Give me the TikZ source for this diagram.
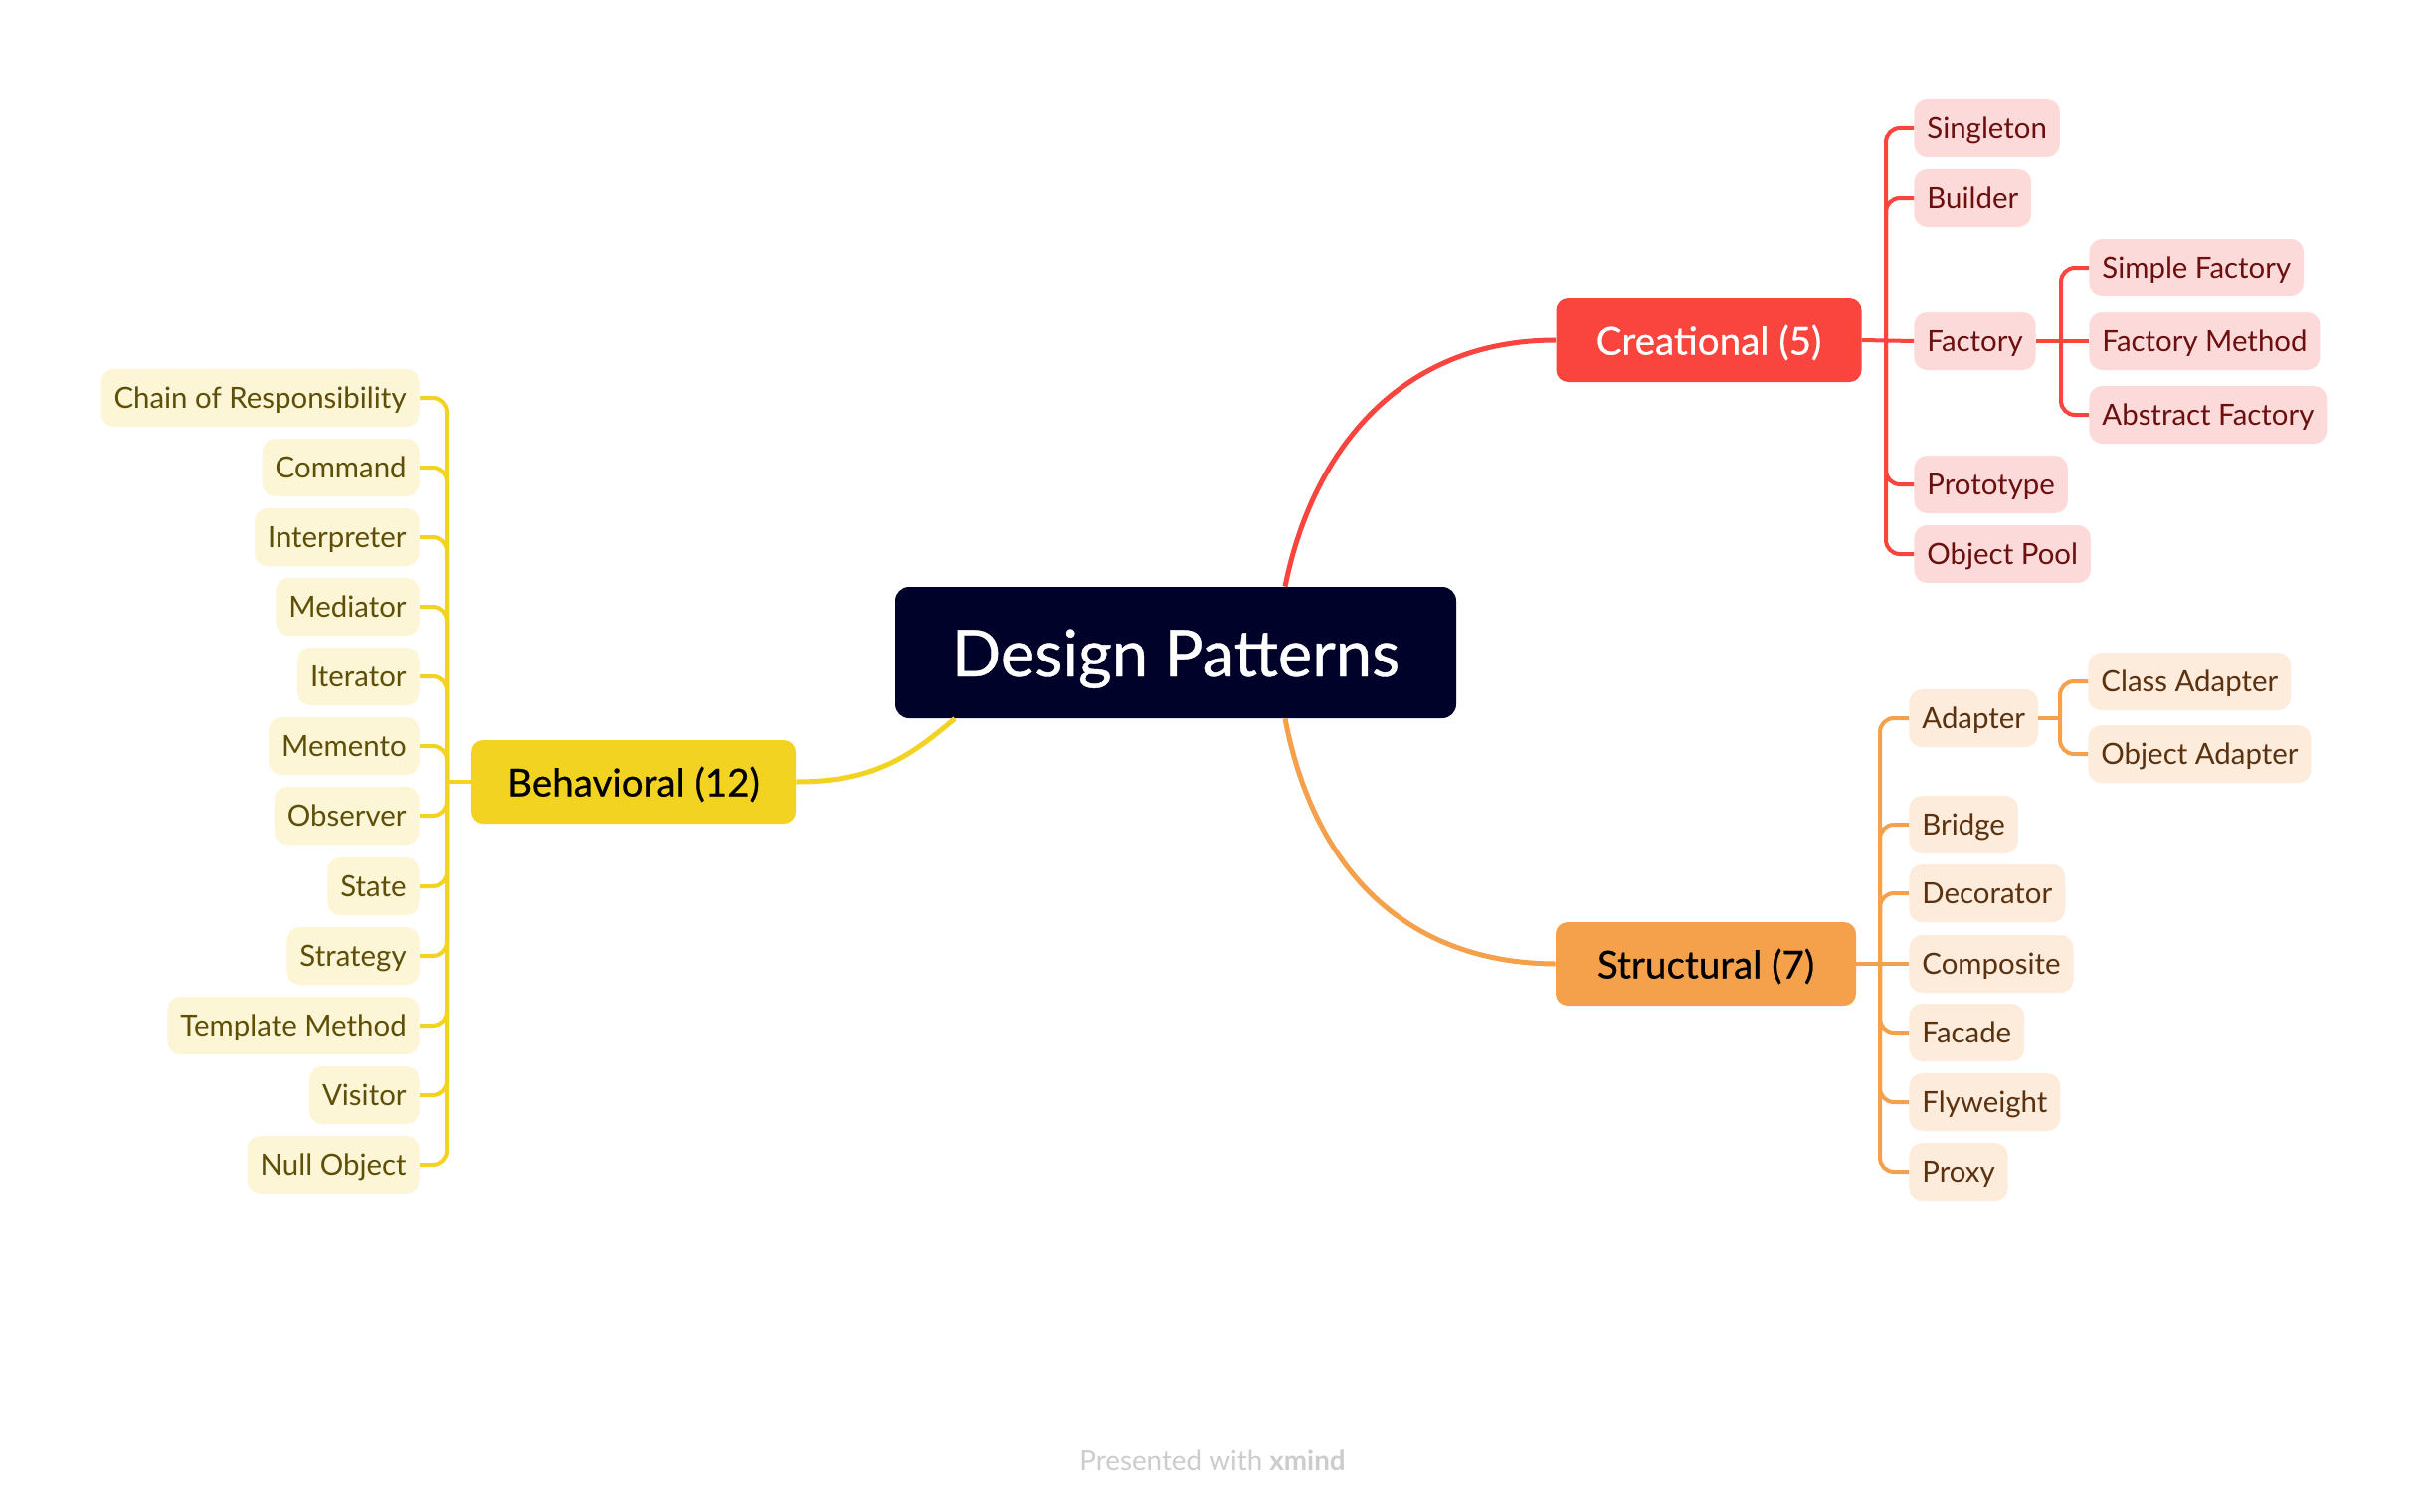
\documentclass[tikz,border=0pt]{standalone}
\usepackage{fontspec}
\setmainfont{Lato}
\newfontfamily\medfont[FakeBold=0.6]{Lato}
\definecolor{dpnavy}{HTML}{000229}
\definecolor{cred}{HTML}{F9453D}
\definecolor{cleafc}{HTML}{FDDADA}
\definecolor{ctext}{HTML}{6B0F0F}
\definecolor{sorange}{HTML}{F5A04B}
\definecolor{sleafc}{HTML}{FDEBDC}
\definecolor{stext}{HTML}{5A3210}
\definecolor{byellow}{HTML}{F2D321}
\definecolor{bleafc}{HTML}{FCF5D6}
\definecolor{btext}{HTML}{5E4F08}
\definecolor{footc}{HTML}{CCCCCC}
\tikzset{
  leaf/.style={rounded corners=6.5pt, minimum height=29pt, inner xsep=6.5pt, inner ysep=0pt,
    text height=12.2pt, text depth=1.8pt, font=\fontsize{14.7pt}{17pt}\selectfont},
  cleaf/.style={leaf, fill=cleafc, text=ctext},
  sleaf/.style={leaf, fill=sleafc, text=stext},
  bleaf/.style={leaf, fill=bleafc, text=btext},
  catnode/.style={rounded corners=6pt, minimum height=42pt, inner sep=0pt,
    text height=16.8pt, text depth=2.2pt, font=\medfont\fontsize{19.3pt}{22pt}\selectfont},
  cline/.style={draw=cred, line width=2pt, rounded corners=7pt},
  sline/.style={draw=sorange, line width=2pt, rounded corners=7pt},
  bline/.style={draw=byellow, line width=2pt, rounded corners=7pt},
  mainline/.style={line width=2.5pt},
}
\begin{document}
\begin{tikzpicture}[x=0.5pt,y=-0.5pt]
\fill[white] (0,0) rectangle (2442,1520);
\useasboundingbox (0,0) rectangle (2442,1520);

% central
\node[fill=dpnavy, text=white, rounded corners=7pt, minimum width=282pt, minimum height=66pt,
  inner sep=0pt, text height=27pt, text depth=3pt,
  font=\medfont\fontsize{32.5pt}{36pt}\selectfont] (dp) at (1182,656) {Design Patterns};

% categories
\node[catnode, fill=cred, text=white, minimum width=153.5pt] (creat) at (1718,342) {Creational (5)};
\node[catnode, fill=sorange, text=black, minimum width=151pt] (struct) at (1715,969) {Structural (7)};
\node[catnode, fill=byellow, text=black, minimum width=163pt] (behav) at (637,786) {Behavioral (12)};

% creational leaves
\node[cleaf, anchor=west] (singleton) at (1924,129) {Singleton};
\node[cleaf, anchor=west] (builder) at (1924,199) {Builder};
\node[cleaf, anchor=west] (factory) at (1924,343) {Factory};
\node[cleaf, anchor=west] (prototype) at (1924,487) {Prototype};
\node[cleaf, anchor=west] (objpool) at (1924,557) {Object Pool};
\node[cleaf, anchor=west] (simplef) at (2100,269) {Simple Factory};
\node[cleaf, anchor=west] (factm) at (2100,343) {Factory Method};
\node[cleaf, anchor=west] (absf) at (2100,417) {Abstract Factory};

% structural leaves
\node[sleaf, anchor=west] (adapter) at (1919,722) {Adapter};
\node[sleaf, anchor=west] (bridge) at (1919,829) {Bridge};
\node[sleaf, anchor=west] (decorator) at (1919,898) {Decorator};
\node[sleaf, anchor=west] (composite) at (1919,969) {Composite};
\node[sleaf, anchor=west] (facade) at (1919,1038) {Facade};
\node[sleaf, anchor=west] (flyweight) at (1919,1108) {Flyweight};
\node[sleaf, anchor=west] (proxy) at (1919,1178) {Proxy};
\node[sleaf, anchor=west] (classad) at (2099,685) {Class Adapter};
\node[sleaf, anchor=west] (objad) at (2099,758) {Object Adapter};

% behavioral leaves
\node[bleaf, anchor=east] (chain) at (422,400) {Chain of Responsibility};
\node[bleaf, anchor=east] (command) at (422,470) {Command};
\node[bleaf, anchor=east] (interp) at (422,540) {Interpreter};
\node[bleaf, anchor=east] (mediator) at (422,610) {Mediator};
\node[bleaf, anchor=east] (iterator) at (422,680) {Iterator};
\node[bleaf, anchor=east] (memento) at (422,750) {Memento};
\node[bleaf, anchor=east] (observer) at (422,820) {Observer};
\node[bleaf, anchor=east] (state) at (422,891) {State};
\node[bleaf, anchor=east] (strategy) at (422,961) {Strategy};
\node[bleaf, anchor=east] (template) at (422,1031) {Template Method};
\node[bleaf, anchor=east] (visitor) at (422,1101) {Visitor};
\node[bleaf, anchor=east] (nullobj) at (422,1171) {Null Object};

% footer
\node[text=footc, font=\fontsize{13.9pt}{16pt}\selectfont] (footer) at (1219,1468) {Presented with \textbf{xmind}};

% bus coordinates
\coordinate (cbus) at (1896,342);
\coordinate (fbus) at (2072,343);
\coordinate (sbus) at (1890,969);
\coordinate (abus) at (2071,722);
\coordinate (bbus) at (449,786);

% main curves
\draw[mainline, cred] ([xshift=55pt]dp.north) .. controls (1320,450) and (1410,342) .. (creat.west);
\draw[mainline, sorange] ([xshift=55pt]dp.south) .. controls (1320,870) and (1410,968) .. (struct.west);
\draw[mainline, byellow] ([xshift=-111pt]dp.south) .. controls (915,760) and (880,786) .. (behav.east);

% creational connectors
\draw[cline] (creat.east) -- (factory.west);
\foreach \n in {singleton,builder,prototype,objpool} \draw[cline] (cbus) |- (\n.west);
\draw[cline] (factory.east) -- (factm.west);
\foreach \n in {simplef,absf} \draw[cline] (fbus) |- (\n.west);

% structural connectors
\draw[sline] (struct.east) -- (composite.west);
\foreach \n in {adapter,bridge,decorator,facade,flyweight,proxy} \draw[sline] (sbus) |- (\n.west);
\draw[sline] (adapter.east) -- (abus);
\foreach \n in {classad,objad} \draw[sline] (abus) |- (\n.west);

% behavioral connectors
\draw[bline] (behav.west) -- (bbus);
\foreach \n in {chain,command,interp,mediator,iterator,memento,observer,state,strategy,template,visitor,nullobj}
  \draw[bline] (bbus) |- (\n.east);
\end{tikzpicture}
\end{document}
